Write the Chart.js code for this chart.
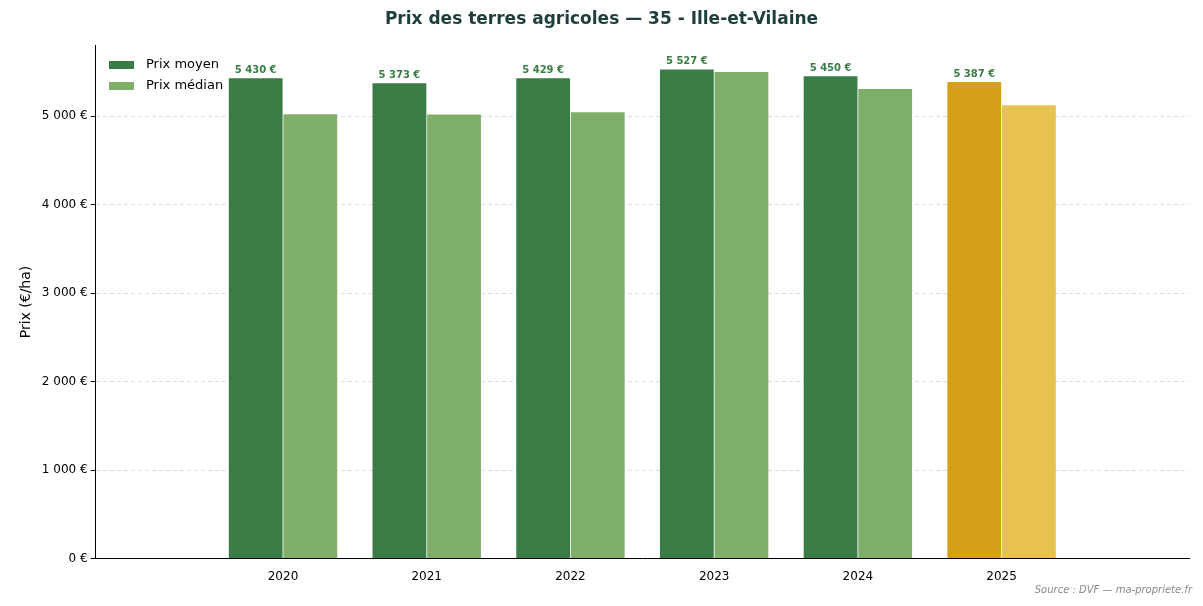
<!DOCTYPE html>
<html><head><meta charset="utf-8">
<script src="https://cdn.jsdelivr.net/npm/chart.js@4"></script>
<style>body{margin:0;background:#fff}#wrap{width:1203px;height:606px;position:relative}</style>
</head><body><div id="wrap"><canvas id="c"></canvas></div>
<script>
const years = ['2020', '2021', '2022', '2023', '2024', '2025'];
const meanPrices = [5430, 5373, 5429, 5527, 5450, 5387];
const medianPrices = [5023, 5020, 5045, 5499, 5306, 5125];
const yTicks = [0, 1000, 2000, 3000, 4000, 5000];

const fmt = v => v.toLocaleString('fr-FR').replace(/\s/g, ' ') + ' €';
const meanColors = years.map(y => y === '2025' ? '#d4a017' : '#3a7d44');
const medColors = years.map(y => y === '2025' ? '#e8c24f' : '#7fae68');

// value labels above the mean bars
const barLabels = {
  id: 'barLabels',
  afterDatasetsDraw(chart) {
    const ctx = chart.ctx;
    const meta = chart.getDatasetMeta(0);
    ctx.save();
    ctx.font = 'bold 10px "DejaVu Sans"';
    ctx.textAlign = 'center';
    ctx.textBaseline = 'bottom';
    ctx.fillStyle = '#3a7d44';
    meta.data.forEach((bar, i) => ctx.fillText(fmt(meanPrices[i]), bar.x, bar.y - 3));
    ctx.restore();
  }
};

// legend inside the plot, top-left + source note
const innerLegend = {
  id: 'innerLegend',
  afterDraw(chart) {
    const ctx = chart.ctx;
    const items = [['Prix moyen', '#3a7d44'], ['Prix médian', '#7fae68']];
    ctx.save();
    ctx.font = '13px "DejaVu Sans"';
    ctx.textBaseline = 'middle';
    items.forEach(([t, c], i) => {
      const y = 65 + i * 21;
      ctx.fillStyle = c;
      ctx.fillRect(109, y - 4, 25, 8);
      ctx.fillStyle = '#000';
      ctx.fillText(t, 146, y);
    });
    ctx.font = 'italic 10px "DejaVu Sans"';
    ctx.fillStyle = '#888';
    ctx.textAlign = 'right';
    ctx.fillText('Source : DVF — ma-propriete.fr', 1192, 590);
    ctx.restore();
  }
};

new Chart(document.getElementById('c'), {
  type: 'bar',
  data: {
    datasets: [
      { label: 'Prix moyen', data: meanPrices.map((v, i) => ({ x: i, y: v })), backgroundColor: meanColors, borderWidth: 0 },
      { label: 'Prix médian', data: medianPrices.map((v, i) => ({ x: i, y: v })), backgroundColor: medColors, borderWidth: 0 }
    ]
  },
  options: {
    responsive: true,
    maintainAspectRatio: false,
    animation: false,
    layout: { padding: { left: 14, right: 14, top: 0, bottom: 19 } },
    datasets: { bar: { categoryPercentage: 0.76, barPercentage: 0.985, inflateAmount: 0 } },
    plugins: {
      legend: { display: false },
      tooltip: { enabled: false },
      title: {
        display: true, text: 'Prix des terres agricoles — 35 - Ille-et-Vilaine',
        color: '#1e3d3d', font: { family: 'DejaVu Sans', size: 17, weight: 'bold' },
        padding: { top: 9, bottom: 16 }
      }
    },
    scales: {
      x: {
        type: 'linear', min: -0.67, max: 5.67,
        afterBuildTicks: ax => { ax.ticks = years.map((y, i) => ({ value: i })); },
        grid: { display: false, drawTicks: true },
        border: { color: '#000' },
        ticks: { color: '#000', font: { family: 'DejaVu Sans', size: 12 }, callback: v => years[v] }
      },
      y: {
        min: 0, max: 5800,
        afterBuildTicks: ax => { ax.ticks = yTicks.map(v => ({ value: v })); },
        border: { color: '#000', dash: [4, 3] },
        grid: { color: '#dddddd', tickColor: '#000', tickLength: 5 },
        ticks: { color: '#000', font: { family: 'DejaVu Sans', size: 12 }, callback: v => fmt(v) },
        title: { display: true, text: 'Prix (€/ha)', color: '#000', font: { family: 'DejaVu Sans', size: 14 } }
      }
    }
  },
  plugins: [barLabels, innerLegend]
});
</script></body></html>
